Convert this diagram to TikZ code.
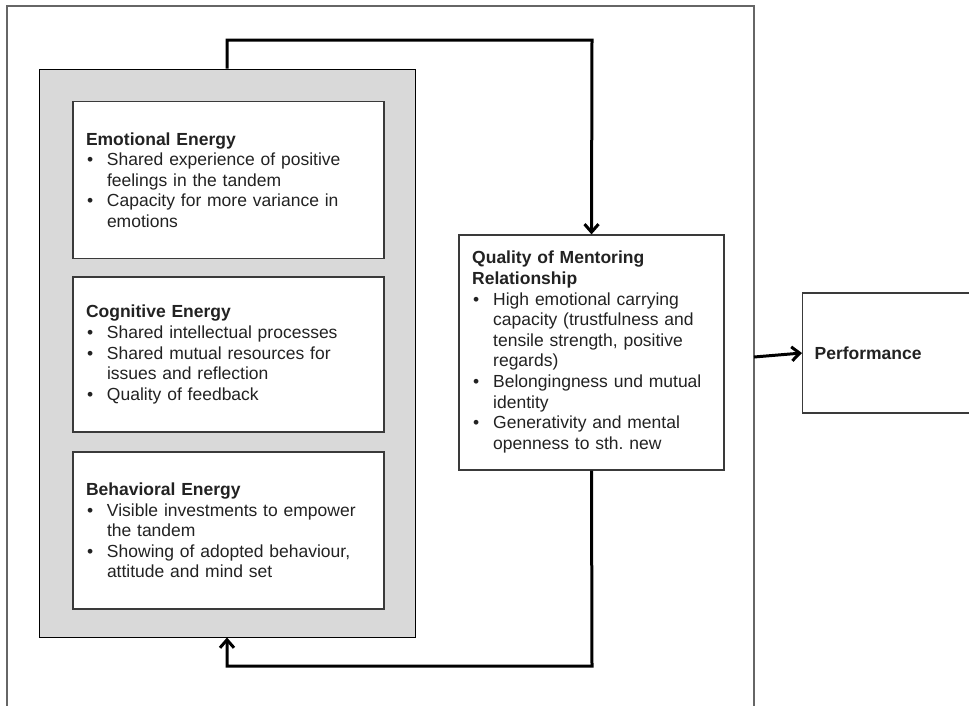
\documentclass[tikz,border=0pt]{standalone}
\usepackage{fontspec}
\setmainfont{Liberation Sans}
\usetikzlibrary{arrows.meta}
\definecolor{txt}{HTML}{222222}
\definecolor{frameclr}{HTML}{666666}
\definecolor{boxclr}{HTML}{3A3A3A}
\definecolor{grayfill}{HTML}{D9D9D9}
\newcommand{\bitem}{\par\hangindent=21pt\hangafter=1\noindent\makebox[21pt][l]{\hspace{1pt}\textbullet}}
\newcommand{\boxfont}{\fontsize{17.5}{20.6}\selectfont\hyphenpenalty=10000\exhyphenpenalty=10000\frenchspacing}
\tikzset{
  frame/.style={draw=frameclr,line width=1.5pt},
  energybox/.style={draw=black,line width=1pt,fill=grayfill,minimum width=376pt,minimum height=568pt,inner sep=0pt},
  textbox/.style={draw=boxclr,line width=1.2pt,fill=white,text=txt,
    font=\boxfont,align=left,inner xsep=13pt,inner ysep=0pt},
  leftbox/.style={textbox,text width=285pt,minimum height=157pt},
  txtonly/.style={text=txt,font=\boxfont,align=left,inner sep=0pt},
  conn/.style={draw=black,line width=3pt,-{Straight Barb[length=8pt,width=14pt]}},
}
\begin{document}
\begin{tikzpicture}[x=1pt,y=-1pt]
\useasboundingbox (0,0) rectangle (969,705);
\fill[white] (0,0) rectangle (969,705);
\draw[frame] (7,720) -- (7,6) -- (754,6) -- (754,720);
\node[energybox] (energy) at (227,353) {};
\node[leftbox] (emo) at (228.5,180) {{\bfseries Emotional Energy}\bitem Shared experience of positive feelings in the tandem\bitem Capacity for more variance in emotions\par};
\node[leftbox,minimum height=155pt] (cog) at (228.5,354.5) {{\bfseries Cognitive Energy}\bitem Shared intellectual processes\bitem Shared mutual resources for issues and reflection\bitem Quality of feedback\par};
\node[leftbox] (beh) at (228.5,530.5) {{\bfseries Behavioral Energy}\bitem Visible investments to empower the tandem\bitem Showing of adopted behaviour, attitude and mind set\par};
\node[textbox,minimum width=265pt,minimum height=235pt] (qual) at (591.5,352.5) {};
\node[txtonly,text width=239pt,anchor=north west] (qualtxt) at (472,251) {{\bfseries Quality of Mentoring Relationship}\bitem High emotional carrying capacity (trustfulness and tensile strength, positive regards)\bitem Belongingness und mutual identity\bitem Generativity and mental openness to sth. new\par};
\node[textbox,minimum width=200pt,minimum height=120pt,inner xsep=12pt,text width=176pt,anchor=west] (perf) at (802,353) {\bfseries Performance};
\coordinate (t1) at (227,40);
\coordinate (t2) at (592,40);
\coordinate (b1) at (592,666);
\coordinate (b2) at (227,666);
\coordinate (pa) at (754,357);
\draw[conn] (energy.north) -- (t1) -- (t2) -- (qual.north);
\draw[conn] (qual.south) -- (b1) -- (b2) -- (energy.south);
\draw[conn] (pa) -- (perf.west);
\end{tikzpicture}
\end{document}
